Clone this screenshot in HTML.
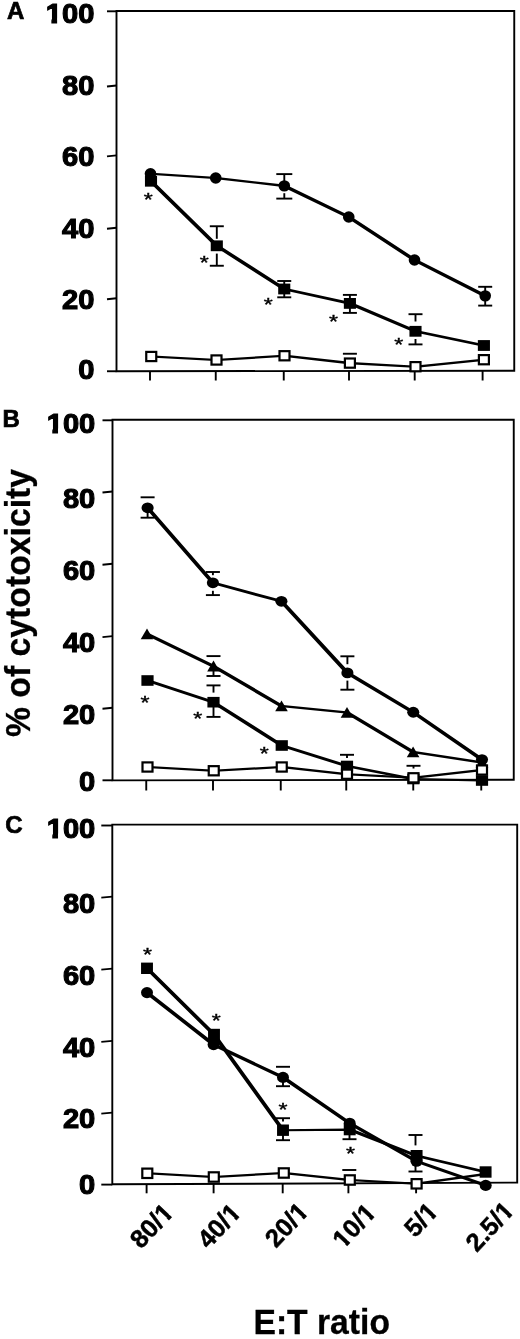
<!DOCTYPE html>
<html lang="en"><head><meta charset="utf-8"><title>Cytotoxicity vs E:T ratio</title>
<style>
html,body{margin:0;padding:0;background:#fff;}
body{width:520px;height:1339px;overflow:hidden;}
svg{display:block;}
text{font-family:"Liberation Sans",sans-serif;fill:#000;}
.b{font-weight:bold;stroke:#000;stroke-width:1.1px;stroke-linejoin:miter;}
.t{font-weight:bold;stroke:#000;stroke-width:0.3px;}
.p{font-weight:bold;stroke:#000;stroke-width:0.7px;}
.x{font-weight:bold;stroke:#000;stroke-width:0.5px;}
.st{font-weight:normal;stroke:#000;stroke-width:0.5px;}
</style></head><body>
<svg width="520" height="1339" viewBox="0 0 520 1339">
<rect x="0" y="0" width="520" height="1339" fill="#fff"/>
<g id="panelA">
<polygon points="116.5,11 514.25,11 514.25,370.75 116.5,371.25" fill="none" stroke="#000" stroke-width="1.9"/>
<line x1="107" y1="86.5" x2="116.5" y2="85.5" stroke="#000" stroke-width="1.9"/>
<line x1="107" y1="156.4" x2="116.5" y2="155.4" stroke="#000" stroke-width="1.9"/>
<line x1="107" y1="228.7" x2="116.5" y2="227.7" stroke="#000" stroke-width="1.9"/>
<line x1="107" y1="299.2" x2="116.5" y2="298.2" stroke="#000" stroke-width="1.9"/>
<line x1="107" y1="11.3" x2="116.5" y2="11.3" stroke="#000" stroke-width="1.9"/>
<line x1="107" y1="371.25" x2="116.5" y2="371.25" stroke="#000" stroke-width="1.9"/>
<line x1="150" y1="371.21" x2="150" y2="380.5" stroke="#000" stroke-width="1.9"/>
<line x1="215.75" y1="371.13" x2="215.75" y2="380.5" stroke="#000" stroke-width="1.9"/>
<line x1="283.75" y1="371.04" x2="283.75" y2="380.5" stroke="#000" stroke-width="1.9"/>
<line x1="349" y1="370.96" x2="349" y2="380.5" stroke="#000" stroke-width="1.9"/>
<line x1="414.7" y1="370.88" x2="414.7" y2="380.5" stroke="#000" stroke-width="1.9"/>
<line x1="482.6" y1="370.79" x2="482.6" y2="380.5" stroke="#000" stroke-width="1.9"/>
<line x1="276.3" y1="174.1" x2="292.3" y2="174.1" stroke="#000" stroke-width="1.9"/>
<line x1="276.3" y1="198.6" x2="292.3" y2="198.6" stroke="#000" stroke-width="1.9"/>
<line x1="284.3" y1="174.1" x2="284.3" y2="181" stroke="#000" stroke-width="1.9"/>
<line x1="284.3" y1="193.2" x2="284.3" y2="198.6" stroke="#000" stroke-width="1.9"/>
<line x1="478.2" y1="286.8" x2="492.2" y2="286.8" stroke="#000" stroke-width="1.9"/>
<line x1="478.2" y1="305.6" x2="492.2" y2="305.6" stroke="#000" stroke-width="1.9"/>
<line x1="485.2" y1="286.8" x2="485.2" y2="305.6" stroke="#000" stroke-width="1.9"/>
<line x1="209.8" y1="226.25" x2="223.8" y2="226.25" stroke="#000" stroke-width="1.9"/>
<line x1="209.8" y1="265.75" x2="223.8" y2="265.75" stroke="#000" stroke-width="1.9"/>
<line x1="216.8" y1="226.25" x2="216.8" y2="238.8" stroke="#000" stroke-width="1.9"/>
<line x1="216.8" y1="253.6" x2="216.8" y2="265.75" stroke="#000" stroke-width="1.9"/>
<line x1="277.25" y1="281" x2="291.25" y2="281" stroke="#000" stroke-width="1.9"/>
<line x1="277.25" y1="297.3" x2="291.25" y2="297.3" stroke="#000" stroke-width="1.9"/>
<line x1="284.25" y1="281" x2="284.25" y2="297.3" stroke="#000" stroke-width="1.9"/>
<line x1="342.9" y1="294.9" x2="356.9" y2="294.9" stroke="#000" stroke-width="1.9"/>
<line x1="342.9" y1="312.9" x2="356.9" y2="312.9" stroke="#000" stroke-width="1.9"/>
<line x1="349.9" y1="294.9" x2="349.9" y2="312.9" stroke="#000" stroke-width="1.9"/>
<line x1="408.5" y1="314.2" x2="422.5" y2="314.2" stroke="#000" stroke-width="1.9"/>
<line x1="408.5" y1="344.4" x2="422.5" y2="344.4" stroke="#000" stroke-width="1.9"/>
<line x1="415.5" y1="314.2" x2="415.5" y2="321.5" stroke="#000" stroke-width="1.9"/>
<line x1="415.5" y1="339" x2="415.5" y2="344.4" stroke="#000" stroke-width="1.9"/>
<line x1="342.9" y1="353.75" x2="356.9" y2="353.75" stroke="#000" stroke-width="1.9"/>
<path d="M149.65 355.45 L152.85 355.45 L218.1 358.95 L218.1 361.05 L214.9 361.05 L149.65 357.55Z M214.9 358.95 L282.9 354.7 L286.1 354.7 L286.1 356.8 L218.1 361.05 L214.9 361.05Z M282.9 354.7 L286.1 354.7 L351.5 362.05 L351.5 364.15 L348.3 364.15 L282.9 356.8Z M348.3 362.05 L351.5 362.05 L417.1 365.65 L417.1 367.75 L413.9 367.75 L348.3 364.15Z M413.9 365.65 L482.3 358.65 L485.5 358.65 L485.5 360.75 L417.1 367.75 L413.9 367.75Z" fill="#000"/>
<path d="M149.4 180.2 L152.6 180.2 L218.4 244.75 L218.4 246.85 L215.2 246.85 L149.4 182.3Z M215.2 244.75 L218.4 244.75 L285.85 287.95 L285.85 290.05 L282.65 290.05 L215.2 246.85Z M282.65 287.95 L285.85 287.95 L351.5 302.35 L351.5 304.45 L348.3 304.45 L282.65 290.05Z M348.3 302.35 L351.5 302.35 L417.1 330.25 L417.1 332.35 L413.9 332.35 L348.3 304.45Z M413.9 330.25 L417.1 330.25 L485.5 344.45 L485.5 346.55 L482.3 346.55 L413.9 332.35Z" fill="#000"/>
<path d="M148.9 172.7 L152.1 172.7 L217.35 176.95 L217.35 179.05 L214.15 179.05 L148.9 174.8Z M214.15 176.95 L217.35 176.95 L285.9 184.8 L285.9 186.9 L282.7 186.9 L214.15 179.05Z M282.7 184.8 L285.9 184.8 L350.35 215.95 L350.35 218.05 L347.15 218.05 L282.7 186.9Z M347.15 215.95 L350.35 215.95 L416.1 258.95 L416.1 261.05 L412.9 261.05 L347.15 218.05Z M412.9 258.95 L416.1 258.95 L486.8 294.8 L486.8 296.9 L483.6 296.9 L412.9 261.05Z" fill="#000"/>
<rect x="146.25" y="351.9" width="10" height="9.2" fill="#fff" stroke="#000" stroke-width="2.2"/>
<rect x="211.5" y="355.4" width="10" height="9.2" fill="#fff" stroke="#000" stroke-width="2.2"/>
<rect x="279.5" y="351.15" width="10" height="9.2" fill="#fff" stroke="#000" stroke-width="2.2"/>
<rect x="344.9" y="358.5" width="10" height="9.2" fill="#fff" stroke="#000" stroke-width="2.2"/>
<rect x="410.5" y="362.1" width="10" height="9.2" fill="#fff" stroke="#000" stroke-width="2.2"/>
<rect x="478.9" y="355.1" width="10" height="9.2" fill="#fff" stroke="#000" stroke-width="2.2"/>
<rect x="144.95" y="175.85" width="12.1" height="10.8" fill="#000"/>
<rect x="210.75" y="240.4" width="12.1" height="10.8" fill="#000"/>
<rect x="278.2" y="283.6" width="12.1" height="10.8" fill="#000"/>
<rect x="343.85" y="298" width="12.1" height="10.8" fill="#000"/>
<rect x="409.45" y="325.9" width="12.1" height="10.8" fill="#000"/>
<rect x="477.85" y="340.1" width="12.1" height="10.8" fill="#000"/>
<ellipse cx="150.5" cy="173.75" rx="5.8" ry="5.7" fill="#000"/>
<ellipse cx="215.75" cy="178" rx="5.8" ry="5.7" fill="#000"/>
<ellipse cx="284.3" cy="185.85" rx="5.8" ry="5.7" fill="#000"/>
<ellipse cx="348.75" cy="217" rx="5.8" ry="5.7" fill="#000"/>
<ellipse cx="414.5" cy="260" rx="5.8" ry="5.7" fill="#000"/>
<ellipse cx="485.2" cy="295.85" rx="5.8" ry="5.7" fill="#000"/>
<text transform="translate(143.75,205.88) scale(1.05,0.85)" font-size="22" class="st">*</text>
<text transform="translate(199.75,269.13) scale(1.05,0.85)" font-size="22" class="st">*</text>
<text transform="translate(263.75,311.38) scale(1.05,0.85)" font-size="22" class="st">*</text>
<text transform="translate(329.00,328.03) scale(1.05,0.85)" font-size="22" class="st">*</text>
<text transform="translate(394.25,350.63) scale(1.05,0.85)" font-size="22" class="st">*</text>
<text x="94.4" y="23.4" font-size="27.5" text-anchor="end" textLength="48.6" lengthAdjust="spacingAndGlyphs" class="b">100</text>
<rect x="46.67" y="18.6" width="4.69" height="6.2" fill="#fff"/>
<rect x="57.13" y="18.6" width="5.34" height="6.2" fill="#fff"/>
<text x="94.4" y="94.5" font-size="27.5" text-anchor="end" textLength="32.4" lengthAdjust="spacingAndGlyphs" class="b">80</text>
<text x="94.4" y="165.8" font-size="27.5" text-anchor="end" textLength="32.4" lengthAdjust="spacingAndGlyphs" class="b">60</text>
<text x="94.4" y="237.9" font-size="27.5" text-anchor="end" textLength="32.4" lengthAdjust="spacingAndGlyphs" class="b">40</text>
<text x="94.4" y="308.9" font-size="27.5" text-anchor="end" textLength="32.4" lengthAdjust="spacingAndGlyphs" class="b">20</text>
<text x="94.4" y="379.1" font-size="27.5" text-anchor="end" textLength="16.2" lengthAdjust="spacingAndGlyphs" class="b">0</text>
<text x="7" y="19.3" font-size="24" class="p">A</text>
</g>
<g id="panelB">
<polygon points="112.5,419.8 513.75,419.8 513.75,779.7 112.5,780.4" fill="none" stroke="#000" stroke-width="1.9"/>
<line x1="102.5" y1="492.5" x2="112.5" y2="491.5" stroke="#000" stroke-width="1.9"/>
<line x1="102.5" y1="564.8" x2="112.5" y2="563.8" stroke="#000" stroke-width="1.9"/>
<line x1="102.5" y1="637.1" x2="112.5" y2="636.1" stroke="#000" stroke-width="1.9"/>
<line x1="102.5" y1="708.8" x2="112.5" y2="707.8" stroke="#000" stroke-width="1.9"/>
<line x1="102.5" y1="420.3" x2="112.5" y2="420.3" stroke="#000" stroke-width="1.9"/>
<line x1="102.5" y1="780.3" x2="112.5" y2="780.3" stroke="#000" stroke-width="1.9"/>
<line x1="146.25" y1="780.34" x2="146.25" y2="790.5" stroke="#000" stroke-width="1.9"/>
<line x1="213" y1="780.22" x2="213" y2="790.5" stroke="#000" stroke-width="1.9"/>
<line x1="280.75" y1="780.11" x2="280.75" y2="790.5" stroke="#000" stroke-width="1.9"/>
<line x1="346.25" y1="779.99" x2="346.25" y2="790.5" stroke="#000" stroke-width="1.9"/>
<line x1="413.25" y1="779.88" x2="413.25" y2="790.5" stroke="#000" stroke-width="1.9"/>
<line x1="481.25" y1="779.76" x2="481.25" y2="790.5" stroke="#000" stroke-width="1.9"/>
<line x1="140.6" y1="497.3" x2="154.6" y2="497.3" stroke="#000" stroke-width="1.9"/>
<line x1="140.6" y1="517.7" x2="154.6" y2="517.7" stroke="#000" stroke-width="1.9"/>
<line x1="147.6" y1="512" x2="147.6" y2="517.7" stroke="#000" stroke-width="1.9"/>
<line x1="205.9" y1="572" x2="219.9" y2="572" stroke="#000" stroke-width="1.9"/>
<line x1="205.9" y1="595.1" x2="219.9" y2="595.1" stroke="#000" stroke-width="1.9"/>
<line x1="212.9" y1="572" x2="212.9" y2="575.2" stroke="#000" stroke-width="1.9"/>
<line x1="212.9" y1="590.8" x2="212.9" y2="595.1" stroke="#000" stroke-width="1.9"/>
<line x1="340.4" y1="656.3" x2="354.4" y2="656.3" stroke="#000" stroke-width="1.9"/>
<line x1="340.4" y1="689.7" x2="354.4" y2="689.7" stroke="#000" stroke-width="1.9"/>
<line x1="347.4" y1="656.3" x2="347.4" y2="664.2" stroke="#000" stroke-width="1.9"/>
<line x1="347.4" y1="680.6" x2="347.4" y2="689.7" stroke="#000" stroke-width="1.9"/>
<line x1="206.5" y1="656.1" x2="220.5" y2="656.1" stroke="#000" stroke-width="1.9"/>
<line x1="206.5" y1="676" x2="220.5" y2="676" stroke="#000" stroke-width="1.9"/>
<line x1="213.5" y1="671" x2="213.5" y2="676" stroke="#000" stroke-width="1.9"/>
<line x1="206.5" y1="685.4" x2="220.5" y2="685.4" stroke="#000" stroke-width="1.9"/>
<line x1="206.5" y1="716.9" x2="220.5" y2="716.9" stroke="#000" stroke-width="1.9"/>
<line x1="213.5" y1="685.4" x2="213.5" y2="692.6" stroke="#000" stroke-width="1.9"/>
<line x1="213.5" y1="707" x2="213.5" y2="716.9" stroke="#000" stroke-width="1.9"/>
<line x1="340" y1="754.8" x2="354" y2="754.8" stroke="#000" stroke-width="1.9"/>
<line x1="347" y1="754.8" x2="347" y2="758" stroke="#000" stroke-width="1.9"/>
<line x1="406.5" y1="765.8" x2="420.5" y2="765.8" stroke="#000" stroke-width="1.9"/>
<line x1="413.5" y1="765.8" x2="413.5" y2="768.5" stroke="#000" stroke-width="1.9"/>
<path d="M145.9 679.45 L149.1 679.45 L215.1 701.15 L215.1 703.25 L211.9 703.25 L145.9 681.55Z M211.9 701.15 L215.1 701.15 L283.35 744.45 L283.35 746.55 L280.15 746.55 L211.9 703.25Z M280.15 744.45 L283.35 744.45 L348.6 764.95 L348.6 767.05 L345.4 767.05 L280.15 746.55Z M345.4 764.95 L348.6 764.95 L415 777.95 L415 780.05 L411.8 780.05 L345.4 767.05Z M411.8 777.95 L415 777.95 L483.6 779.45 L483.6 781.55 L480.4 781.55 L411.8 780.05Z" fill="#000"/>
<path d="M145.9 765.95 L149.1 765.95 L215.35 769.7 L215.35 771.8 L212.15 771.8 L145.9 768.05Z M212.15 769.7 L280.15 765.95 L283.35 765.95 L283.35 768.05 L215.35 771.8 L212.15 771.8Z M280.15 765.95 L283.35 765.95 L348.6 773.15 L348.6 775.25 L345.4 775.25 L280.15 768.05Z M345.4 773.15 L348.6 773.15 L415.1 776.75 L415.1 778.85 L411.9 778.85 L345.4 775.25Z M411.9 776.75 L480.4 768.95 L483.6 768.95 L483.6 771.05 L415.1 778.85 L411.9 778.85Z" fill="#000"/>
<path d="M145.4 632.95 L148.6 632.95 L215.1 665.15 L215.1 667.25 L211.9 667.25 L145.4 635.05Z M211.9 665.15 L215.1 665.15 L283.1 704.95 L283.1 707.05 L279.9 707.05 L211.9 667.25Z M279.9 704.95 L283.1 704.95 L348.6 711.45 L348.6 713.55 L345.4 713.55 L279.9 707.05Z M345.4 711.45 L348.6 711.45 L414.7 750.95 L414.7 753.05 L411.5 753.05 L345.4 713.55Z M411.5 750.95 L414.7 750.95 L483.6 761.45 L483.6 763.55 L480.4 763.55 L411.5 753.05Z" fill="#000"/>
<path d="M146 506.75 L149.2 506.75 L214.5 581.75 L214.5 583.85 L211.3 583.85 L146 508.85Z M211.3 581.75 L214.5 581.75 L283 600.25 L283 602.35 L279.8 602.35 L211.3 583.85Z M279.8 600.25 L283 600.25 L349 671.85 L349 673.95 L345.8 673.95 L279.8 602.35Z M345.8 671.85 L349 671.85 L414.85 711.2 L414.85 713.3 L411.65 713.3 L345.8 673.95Z M411.65 711.2 L414.85 711.2 L483.6 758.55 L483.6 760.65 L480.4 760.65 L411.65 713.3Z" fill="#000"/>
<rect x="141.4" y="675.2" width="12.2" height="10.6" fill="#000"/>
<rect x="207.4" y="696.9" width="12.2" height="10.6" fill="#000"/>
<rect x="275.65" y="740.2" width="12.2" height="10.6" fill="#000"/>
<rect x="340.9" y="760.7" width="12.2" height="10.6" fill="#000"/>
<rect x="407.3" y="773.7" width="12.2" height="10.6" fill="#000"/>
<rect x="475.9" y="775.2" width="12.2" height="10.6" fill="#000"/>
<polygon points="147,628.4 153.3,639.2 140.7,639.2" fill="#000"/>
<polygon points="213.5,660.6 219.8,671.4 207.2,671.4" fill="#000"/>
<polygon points="281.5,700.4 287.8,711.2 275.2,711.2" fill="#000"/>
<polygon points="347,706.9 353.3,717.7 340.7,717.7" fill="#000"/>
<polygon points="413.1,746.4 419.4,757.2 406.8,757.2" fill="#000"/>
<polygon points="482,756.9 488.3,767.7 475.7,767.7" fill="#000"/>
<rect x="142.5" y="762.4" width="10" height="9.2" fill="#fff" stroke="#000" stroke-width="2.2"/>
<rect x="208.75" y="766.15" width="10" height="9.2" fill="#fff" stroke="#000" stroke-width="2.2"/>
<rect x="276.75" y="762.4" width="10" height="9.2" fill="#fff" stroke="#000" stroke-width="2.2"/>
<rect x="342" y="769.6" width="10" height="9.2" fill="#fff" stroke="#000" stroke-width="2.2"/>
<rect x="408.5" y="773.2" width="10" height="9.2" fill="#fff" stroke="#000" stroke-width="2.2"/>
<rect x="477" y="765.4" width="10" height="9.2" fill="#fff" stroke="#000" stroke-width="2.2"/>
<ellipse cx="147.6" cy="507.8" rx="6.05" ry="5.4" fill="#000"/>
<ellipse cx="212.9" cy="582.8" rx="6.05" ry="5.4" fill="#000"/>
<ellipse cx="281.4" cy="601.3" rx="6.05" ry="5.4" fill="#000"/>
<ellipse cx="347.4" cy="672.9" rx="6.05" ry="5.4" fill="#000"/>
<ellipse cx="413.25" cy="712.25" rx="6.05" ry="5.4" fill="#000"/>
<ellipse cx="482" cy="759.6" rx="6.05" ry="5.4" fill="#000"/>
<text transform="translate(140.50,708.63) scale(1.05,0.85)" font-size="22" class="st">*</text>
<text transform="translate(193.30,725.23) scale(1.05,0.85)" font-size="22" class="st">*</text>
<text transform="translate(259.75,760.38) scale(1.05,0.85)" font-size="22" class="st">*</text>
<text x="95.3" y="433.3" font-size="27.5" text-anchor="end" textLength="48.6" lengthAdjust="spacingAndGlyphs" class="b">100</text>
<rect x="47.57" y="428.5" width="4.69" height="6.2" fill="#fff"/>
<rect x="58.03" y="428.5" width="5.34" height="6.2" fill="#fff"/>
<text x="95.3" y="508.2" font-size="27.5" text-anchor="end" textLength="32.4" lengthAdjust="spacingAndGlyphs" class="b">80</text>
<text x="95.3" y="580.4" font-size="27.5" text-anchor="end" textLength="32.4" lengthAdjust="spacingAndGlyphs" class="b">60</text>
<text x="95.3" y="652.1" font-size="27.5" text-anchor="end" textLength="32.4" lengthAdjust="spacingAndGlyphs" class="b">40</text>
<text x="95.3" y="723.8" font-size="27.5" text-anchor="end" textLength="32.4" lengthAdjust="spacingAndGlyphs" class="b">20</text>
<text x="95.3" y="791" font-size="27.5" text-anchor="end" textLength="16.2" lengthAdjust="spacingAndGlyphs" class="b">0</text>
<text x="2.6" y="426.8" font-size="24" class="p">B</text>
<text transform="translate(29.5,737) rotate(-90)" font-size="35" textLength="268" lengthAdjust="spacingAndGlyphs" class="t">% of cytotoxicity</text>
</g>
<g id="panelC">
<polygon points="112.3,824.6 517.2,824.6 517.2,1182.6 112.3,1184.3" fill="none" stroke="#000" stroke-width="1.9"/>
<line x1="101.3" y1="897.6" x2="112.3" y2="896.6" stroke="#000" stroke-width="1.9"/>
<line x1="101.3" y1="969.6" x2="112.3" y2="968.6" stroke="#000" stroke-width="1.9"/>
<line x1="101.3" y1="1041.9" x2="112.3" y2="1040.9" stroke="#000" stroke-width="1.9"/>
<line x1="101.3" y1="1113.6" x2="112.3" y2="1112.6" stroke="#000" stroke-width="1.9"/>
<line x1="101.3" y1="825.5" x2="112.3" y2="825.5" stroke="#000" stroke-width="1.9"/>
<line x1="101.3" y1="1184.6" x2="112.3" y2="1184.6" stroke="#000" stroke-width="1.9"/>
<line x1="146.6" y1="1184.16" x2="146.6" y2="1193.3" stroke="#000" stroke-width="1.9"/>
<line x1="213.6" y1="1183.87" x2="213.6" y2="1193.3" stroke="#000" stroke-width="1.9"/>
<line x1="282.7" y1="1183.58" x2="282.7" y2="1193.3" stroke="#000" stroke-width="1.9"/>
<line x1="348.4" y1="1183.31" x2="348.4" y2="1193.3" stroke="#000" stroke-width="1.9"/>
<line x1="416.1" y1="1183.02" x2="416.1" y2="1193.3" stroke="#000" stroke-width="1.9"/>
<line x1="276" y1="1066.8" x2="290" y2="1066.8" stroke="#000" stroke-width="1.9"/>
<line x1="276" y1="1086.2" x2="290" y2="1086.2" stroke="#000" stroke-width="1.9"/>
<line x1="283" y1="1082" x2="283" y2="1086.2" stroke="#000" stroke-width="1.9"/>
<line x1="276" y1="1118.2" x2="290" y2="1118.2" stroke="#000" stroke-width="1.9"/>
<line x1="276" y1="1140.2" x2="290" y2="1140.2" stroke="#000" stroke-width="1.9"/>
<line x1="283" y1="1118.2" x2="283" y2="1121.5" stroke="#000" stroke-width="1.9"/>
<line x1="283" y1="1135" x2="283" y2="1140.2" stroke="#000" stroke-width="1.9"/>
<line x1="342.5" y1="1139.2" x2="356.5" y2="1139.2" stroke="#000" stroke-width="1.9"/>
<line x1="349.5" y1="1134" x2="349.5" y2="1139.2" stroke="#000" stroke-width="1.9"/>
<line x1="408.5" y1="1135" x2="422.5" y2="1135" stroke="#000" stroke-width="1.9"/>
<line x1="408.5" y1="1171.5" x2="422.5" y2="1171.5" stroke="#000" stroke-width="1.9"/>
<line x1="415.5" y1="1135" x2="415.5" y2="1145.4" stroke="#000" stroke-width="1.9"/>
<line x1="415.5" y1="1166" x2="415.5" y2="1171.5" stroke="#000" stroke-width="1.9"/>
<line x1="342.3" y1="1170" x2="356.3" y2="1170" stroke="#000" stroke-width="1.9"/>
<path d="M145.7 1172.25 L148.9 1172.25 L215.4 1175.95 L215.4 1178.05 L212.2 1178.05 L145.7 1174.35Z M212.2 1175.95 L282.2 1171.95 L285.4 1171.95 L285.4 1174.05 L215.4 1178.05 L212.2 1178.05Z M282.2 1171.95 L285.4 1171.95 L351.4 1178.95 L351.4 1181.05 L348.2 1181.05 L282.2 1174.05Z M348.2 1178.95 L351.4 1178.95 L418.2 1182.75 L418.2 1184.85 L415 1184.85 L348.2 1181.05Z M415 1182.75 L484.1 1172.95 L487.3 1172.95 L487.3 1175.05 L418.2 1184.85 L415 1184.85Z" fill="#000"/>
<path d="M145.4 991.55 L148.6 991.55 L215.2 1043.55 L215.2 1045.65 L212 1045.65 L145.4 993.65Z M212 1043.55 L215.2 1043.55 L284.6 1076.35 L284.6 1078.45 L281.4 1078.45 L212 1045.65Z M281.4 1076.35 L284.6 1076.35 L351.3 1122.25 L351.3 1124.35 L348.1 1124.35 L281.4 1078.45Z M348.1 1122.25 L351.3 1122.25 L418.1 1160.15 L418.1 1162.25 L414.9 1162.25 L348.1 1124.35Z M414.9 1160.15 L418.1 1160.15 L487.3 1184.35 L487.3 1186.45 L484.1 1186.45 L414.9 1162.25Z" fill="#000"/>
<path d="M145.4 967.25 L148.6 967.25 L215.6 1033.45 L215.6 1035.55 L212.4 1035.55 L145.4 969.35Z M212.4 1033.45 L215.6 1033.45 L284.6 1129.15 L284.6 1131.25 L281.4 1131.25 L212.4 1035.55Z M281.4 1129.15 L348.1 1128.55 L351.3 1128.55 L351.3 1130.65 L284.6 1131.25 L281.4 1131.25Z M348.1 1128.55 L351.3 1128.55 L418.2 1154.65 L418.2 1156.75 L415 1156.75 L348.1 1130.65Z M415 1154.65 L418.2 1154.65 L487.2 1170.95 L487.2 1173.05 L484 1173.05 L415 1156.75Z" fill="#000"/>
<rect x="142.3" y="1168.6" width="10" height="9.4" fill="#fff" stroke="#000" stroke-width="2.2"/>
<rect x="208.8" y="1172.3" width="10" height="9.4" fill="#fff" stroke="#000" stroke-width="2.2"/>
<rect x="278.8" y="1168.3" width="10" height="9.4" fill="#fff" stroke="#000" stroke-width="2.2"/>
<rect x="344.8" y="1175.3" width="10" height="9.4" fill="#fff" stroke="#000" stroke-width="2.2"/>
<rect x="411.6" y="1179.1" width="10" height="9.4" fill="#fff" stroke="#000" stroke-width="2.2"/>
<ellipse cx="147" cy="992.6" rx="6.0" ry="5.6" fill="#000"/>
<ellipse cx="213.6" cy="1044.6" rx="6.0" ry="5.6" fill="#000"/>
<ellipse cx="283" cy="1077.4" rx="6.0" ry="5.6" fill="#000"/>
<ellipse cx="349.7" cy="1123.3" rx="6.0" ry="5.6" fill="#000"/>
<ellipse cx="416.5" cy="1161.2" rx="6.0" ry="5.6" fill="#000"/>
<ellipse cx="485.7" cy="1185.4" rx="6.0" ry="5.6" fill="#000"/>
<rect x="141.05" y="962.6" width="11.9" height="11.4" fill="#000"/>
<rect x="208.05" y="1028.8" width="11.9" height="11.4" fill="#000"/>
<rect x="277.05" y="1124.5" width="11.9" height="11.4" fill="#000"/>
<rect x="343.75" y="1123.9" width="11.9" height="11.4" fill="#000"/>
<rect x="410.65" y="1150" width="11.9" height="11.4" fill="#000"/>
<rect x="479.65" y="1166.3" width="11.9" height="11.4" fill="#000"/>
<text transform="translate(143.10,961.13) scale(1.05,0.85)" font-size="22" class="st">*</text>
<text transform="translate(211.75,1026.63) scale(1.05,0.85)" font-size="22" class="st">*</text>
<text transform="translate(278.50,1115.83) scale(1.05,0.85)" font-size="22" class="st">*</text>
<text transform="translate(345.90,1159.63) scale(1.05,0.85)" font-size="22" class="st">*</text>
<text x="95.3" y="838.4" font-size="27.5" text-anchor="end" textLength="48.6" lengthAdjust="spacingAndGlyphs" class="b">100</text>
<rect x="47.57" y="833.6" width="4.69" height="6.2" fill="#fff"/>
<rect x="58.03" y="833.6" width="5.34" height="6.2" fill="#fff"/>
<text x="95.3" y="913.2" font-size="27.5" text-anchor="end" textLength="32.4" lengthAdjust="spacingAndGlyphs" class="b">80</text>
<text x="95.3" y="984.9" font-size="27.5" text-anchor="end" textLength="32.4" lengthAdjust="spacingAndGlyphs" class="b">60</text>
<text x="95.3" y="1056.6" font-size="27.5" text-anchor="end" textLength="32.4" lengthAdjust="spacingAndGlyphs" class="b">40</text>
<text x="95.3" y="1128.2" font-size="27.5" text-anchor="end" textLength="32.4" lengthAdjust="spacingAndGlyphs" class="b">20</text>
<text x="95.3" y="1193.9" font-size="27.5" text-anchor="end" textLength="16.2" lengthAdjust="spacingAndGlyphs" class="b">0</text>
<text x="5.2" y="833.3" font-size="24" class="p">C</text>
<g transform="translate(174.8,1213.6) rotate(-47)"><text font-size="25.4" text-anchor="end" class="x">80/1</text><rect x="-13.36" y="-3.99" width="4.32" height="5.24" fill="#fff"/><rect x="-4.47" y="-3.99" width="4.88" height="5.24" fill="#fff"/></g>
<g transform="translate(242.3,1213.6) rotate(-47)"><text font-size="25.4" text-anchor="end" class="x">40/1</text><rect x="-13.36" y="-3.99" width="4.32" height="5.24" fill="#fff"/><rect x="-4.47" y="-3.99" width="4.88" height="5.24" fill="#fff"/></g>
<g transform="translate(309.8,1212.6) rotate(-47)"><text font-size="25.4" text-anchor="end" class="x">20/1</text><rect x="-13.36" y="-3.99" width="4.32" height="5.24" fill="#fff"/><rect x="-4.47" y="-3.99" width="4.88" height="5.24" fill="#fff"/></g>
<g transform="translate(377.3,1213.6) rotate(-47)"><text font-size="25.4" text-anchor="end" class="x">10/1</text><rect x="-13.36" y="-3.99" width="4.32" height="5.24" fill="#fff"/><rect x="-4.47" y="-3.99" width="4.88" height="5.24" fill="#fff"/><rect x="-48.67" y="-3.99" width="4.32" height="5.24" fill="#fff"/><rect x="-39.78" y="-3.99" width="4.88" height="5.24" fill="#fff"/></g>
<g transform="translate(439.3,1212.6) rotate(-47)"><text font-size="25.4" text-anchor="end" class="x">5/1</text><rect x="-13.36" y="-3.99" width="4.32" height="5.24" fill="#fff"/><rect x="-4.47" y="-3.99" width="4.88" height="5.24" fill="#fff"/></g>
<g transform="translate(515.3,1211.6) rotate(-47)"><text font-size="25.4" text-anchor="end" class="x">2.5/1</text><rect x="-13.36" y="-3.99" width="4.32" height="5.24" fill="#fff"/><rect x="-4.47" y="-3.99" width="4.88" height="5.24" fill="#fff"/></g>
<text x="321.7" y="1334" font-size="34.5" text-anchor="middle" textLength="136.5" lengthAdjust="spacingAndGlyphs" class="t">E:T ratio</text>
</g>
</svg></body></html>
